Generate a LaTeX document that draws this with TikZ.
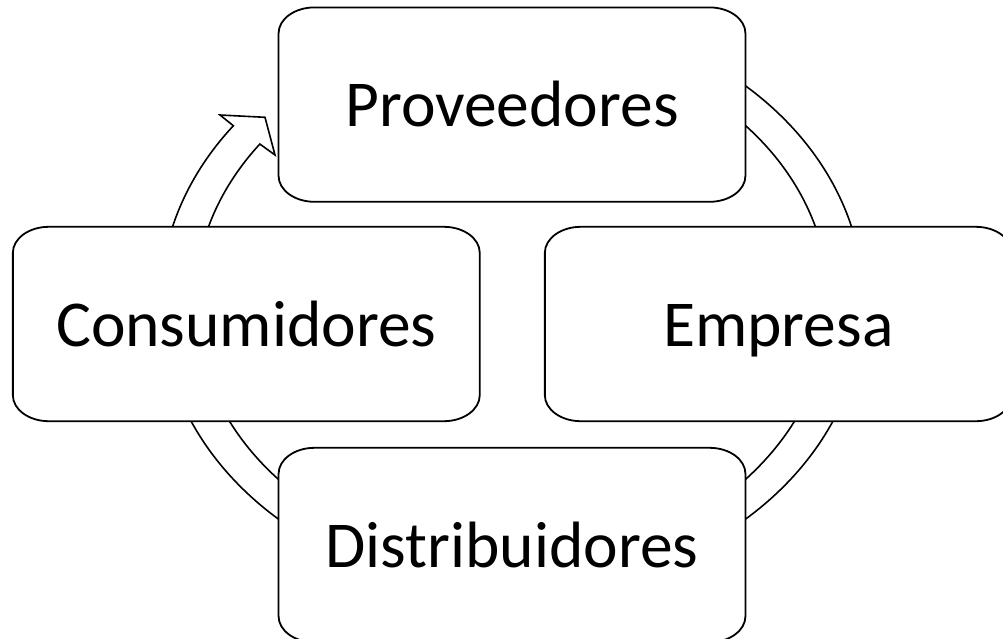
\documentclass[tikz,border=0pt]{standalone}
\usepackage{fontspec}
\setmainfont{Carlito}
\pgfdeclarelayer{ringlayer}
\pgfdeclarelayer{boxlayer}
\pgfsetlayers{ringlayer,boxlayer,main}
\tikzset{
  cyclabel/.style={draw=none, minimum width=466.5pt, minimum height=194pt, inner sep=0pt,
    font=\fontsize{65.5}{72}\selectfont, text height=60pt, text depth=16pt},
  boxline/.style={draw=black, line width=1.8pt, fill=white},
  ringline/.style={draw=black, line width=1.6pt, fill=white, line join=miter}
}
\newcommand{\cycbox}[1]{%
  \draw[boxline] ([xshift=36pt]#1.north west) -- ([xshift=-36pt]#1.north east)
    arc[start angle=90,end angle=0,x radius=36pt,y radius=26pt]
    -- ([yshift=26pt]#1.south east)
    arc[start angle=0,end angle=-90,x radius=36pt,y radius=26pt]
    -- ([xshift=36pt]#1.south west)
    arc[start angle=270,end angle=180,x radius=36pt,y radius=26pt]
    -- ([yshift=-26pt]#1.north west)
    arc[start angle=180,end angle=90,x radius=36pt,y radius=26pt] -- cycle;}
\begin{document}
\begin{tikzpicture}[x=1pt,y=1pt]
  \useasboundingbox (0,0) rectangle (1003,-638);
  % nodes
  \node[cyclabel] (prov) at (512,-104.6) {Proveedores};
  \node[cyclabel] (cons) at (246.3,-324) {Consumidores};
  \node[cyclabel] (emp)  at (778.3,-324) {Empresa};
  \node[cyclabel] (dist) at (512,-545) {Distribuidores};
  % ring with arrow head
  \coordinate (rc)  at (512,-302.5);
  \coordinate (ob)  at (220,-115);
  \coordinate (tip) at (265,-117.3);
  \coordinate (ib)  at (275,-155);
  \begin{pgfonlayer}{ringlayer}
    \path[ringline] ([shift={(rc)}]90:351.7 and 289.7)
      arc[start angle=90, end angle=-217.6, x radius=351.7, y radius=289.7]
      -- (ob) -- (tip) -- (ib)
      -- ([shift={(rc)}]-217.3:317 and 261.5)
      arc[start angle=-217.3, end angle=90, x radius=317, y radius=261.5]
      -- cycle;
  \end{pgfonlayer}
  \begin{pgfonlayer}{boxlayer}
    \cycbox{prov}
    \cycbox{cons}
    \cycbox{emp}
    \cycbox{dist}
  \end{pgfonlayer}
\end{tikzpicture}
\end{document}
